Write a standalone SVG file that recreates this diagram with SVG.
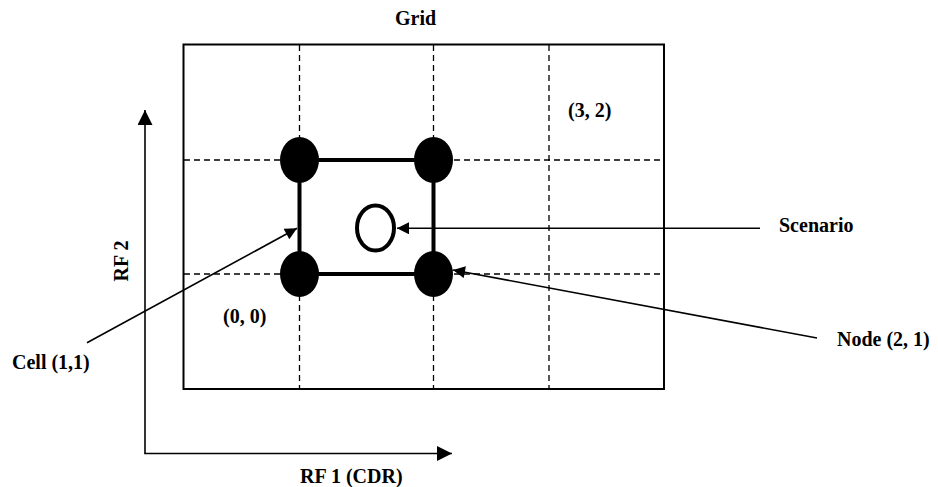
<svg xmlns="http://www.w3.org/2000/svg" width="938" height="487" viewBox="0 0 938 487">
<style>
text{font-family:"Liberation Serif","DejaVu Serif","Times New Roman",serif;font-weight:bold;font-size:20px;fill:#000}
.dash{stroke:#000;stroke-width:1.3;stroke-dasharray:6 4;fill:none}
.thin{stroke:#000;stroke-width:1.6;fill:none}
.thick{stroke:#000;stroke-width:4;fill:none}
.node{fill:#000}
</style>
<defs>
<marker id="ah" viewBox="0 0 10 10" refX="10" refY="5" markerWidth="15" markerHeight="15" markerUnits="userSpaceOnUse" orient="auto">
<path d="M0,0 L10,5 L0,10 z" fill="#000"/>
</marker>
<marker id="as" viewBox="0 0 10 10" refX="10" refY="5" markerWidth="14" markerHeight="12" markerUnits="userSpaceOnUse" orient="auto">
<path d="M0,0 L10,5 L0,10 z" fill="#000"/>
</marker>
</defs>
<g id="grid">
<rect x="183.5" y="44.5" width="480.5" height="344.5" fill="#fff" stroke="#000" stroke-width="2"/>
<line class="dash" x1="299.5" y1="45" x2="299.5" y2="389"/>
<line class="dash" x1="433.5" y1="45" x2="433.5" y2="389"/>
<line class="dash" x1="549" y1="45" x2="549" y2="389"/>
<line class="dash" x1="184" y1="160" x2="664" y2="160"/>
<line class="dash" x1="184" y1="274" x2="664" y2="274"/>
</g>
<g id="cell">
<rect class="thick" x="299.5" y="160" width="134" height="114"/>
</g>
<g id="node-0-1"><ellipse class="node" cx="299.5" cy="160" rx="19.5" ry="23"/></g>
<g id="node-1-1"><ellipse class="node" cx="433.5" cy="160" rx="19.5" ry="23"/></g>
<g id="node-0-0"><ellipse class="node" cx="299.5" cy="274" rx="19.5" ry="23"/></g>
<g id="node-2-1"><ellipse class="node" cx="433.5" cy="274" rx="19.5" ry="23"/></g>
<g id="scenario"><ellipse cx="375.5" cy="228" rx="18.5" ry="22.5" fill="none" stroke="#000" stroke-width="4"/></g>
<g id="axes">
<line class="thin" x1="145" y1="453.5" x2="145" y2="110" marker-end="url(#ah)"/>
<line class="thin" x1="144.2" y1="453.5" x2="452" y2="453.5" marker-end="url(#ah)"/>
</g>
<g id="connectors">
<line class="thin" x1="760" y1="228.3" x2="397" y2="228.3" marker-end="url(#as)"/>
<line class="thin" x1="817" y1="338" x2="453" y2="270" marker-end="url(#as)"/>
<line class="thin" x1="87" y1="342.7" x2="297" y2="228.3" marker-end="url(#as)"/>
</g>
<g id="labels">
<text x="395" y="25">Grid</text>
<text x="568" y="117">(3, 2)</text>
<text x="223" y="323">(0, 0)</text>
<text x="779" y="231.5">Scenario</text>
<text x="837" y="346">Node (2, 1)</text>
<text x="12" y="369">Cell (1,1)</text>
<text x="300" y="482.5">RF 1 (CDR)</text>
<text transform="translate(127.5,261) rotate(-90)" text-anchor="middle">RF 2</text>
</g>
</svg>
